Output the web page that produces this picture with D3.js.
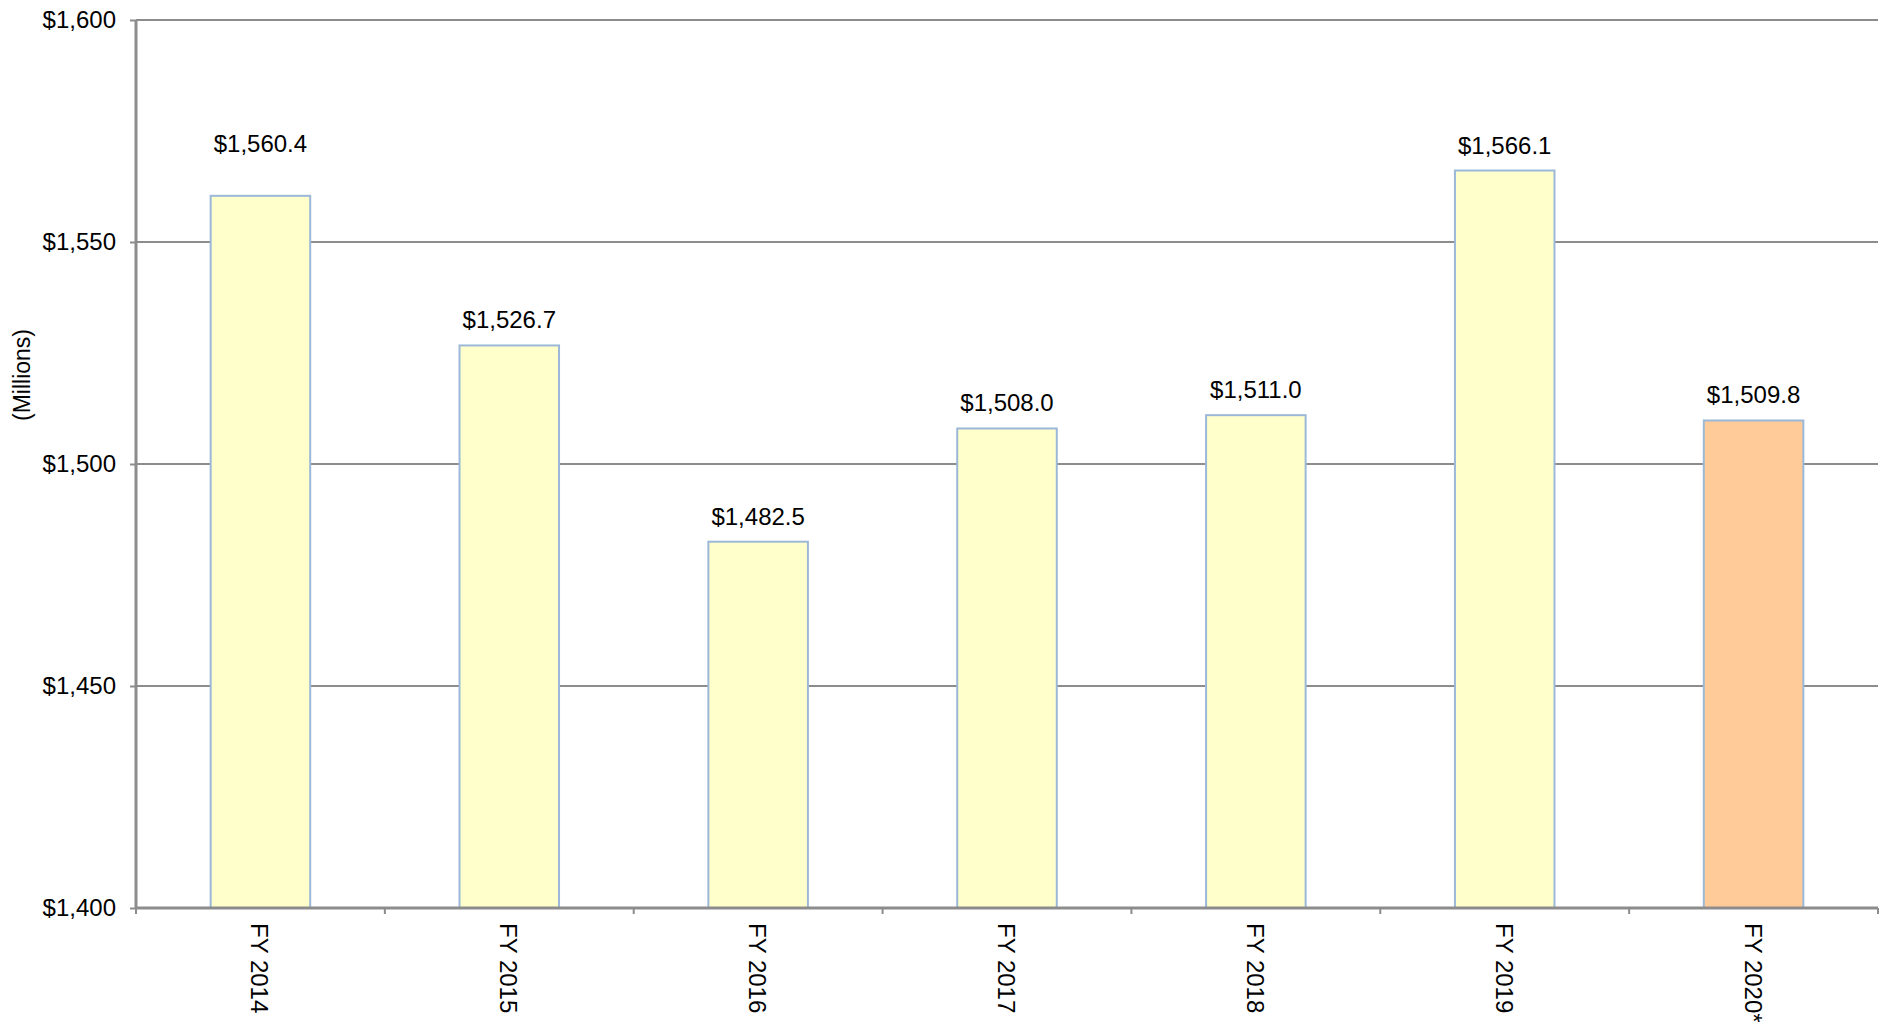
<!DOCTYPE html>
<html>
<head>
<meta charset="utf-8">
<script src="https://cdn.jsdelivr.net/npm/d3@7"></script>
<style>
    body { margin: 0; background: #fff; }
    svg text { font-family: "Liberation Sans", Arial, sans-serif; fill: #000; }
</style>
</head>
<body>
<svg id="chart" width="1889" height="1024"></svg>
<script>
// chart data
const years = ["FY 2014", "FY 2015", "FY 2016", "FY 2017", "FY 2018", "FY 2019", "FY 2020*"];
const spending = [1560.4, 1526.7, 1482.5, 1508.0, 1511.0, 1566.1, 1509.8];
const yTicks = [1400, 1450, 1500, 1550, 1600];
const axisTitle = "(Millions)";

const svg = d3.select("#chart");

// plot area
const plotLeft = 136, plotRight = 1878, plotTop = 20, plotBottom = 908;

const x = d3.scaleBand()
    .domain(years)
    .range([plotLeft, plotRight])
    .paddingInner(0.6)
    .paddingOuter(0.3);

const y = d3.scaleLinear()
    .domain([1400, 1600])
    .range([plotBottom, plotTop]);

const money = d3.format("$,.1f");
const moneyTick = d3.format("$,");

// gridlines
svg.append("g")
    .selectAll("line")
    .data(yTicks.filter(t => t > 1400))
    .join("line")
    .attr("x1", plotLeft)
    .attr("x2", plotRight)
    .attr("y1", d => y(d))
    .attr("y2", d => y(d))
    .attr("stroke", "#8c8c8c")
    .attr("stroke-width", 2);

// bars
svg.append("g")
    .selectAll("rect")
    .data(spending)
    .join("rect")
    .attr("x", (d, i) => x(years[i]))
    .attr("y", d => y(d))
    .attr("width", x.bandwidth())
    .attr("height", d => plotBottom - y(d))
    .attr("fill", (d, i) => i === years.length - 1 ? "#ffcc99" : "#ffffcc")
    .attr("stroke", "#9bb8d8")
    .attr("stroke-width", 2);

// value labels (the first one sits higher in the original)
svg.append("g")
    .selectAll("text")
    .data(spending)
    .join("text")
    .attr("x", (d, i) => x(years[i]) + x.bandwidth() / 2)
    .attr("y", (d, i) => y(d) - (i === 0 ? 44 : 17))
    .attr("text-anchor", "middle")
    .attr("font-size", "24px")
    .text(d => money(d));

// y axis
const yAxis = svg.append("g")
    .attr("transform", `translate(${plotLeft},0)`)
    .call(d3.axisLeft(y).tickValues(yTicks).tickFormat(moneyTick).tickSize(6).tickPadding(14));
yAxis.select(".domain").attr("stroke", "#8c8c8c").attr("stroke-width", 3)
    .attr("d", `M0,${plotBottom}V${plotTop}`);
yAxis.selectAll(".tick line").attr("stroke", "#8c8c8c").attr("stroke-width", 2);
yAxis.selectAll(".tick text")
    .attr("font-size", "24px")
    .attr("font-family", "Liberation Sans, Arial, sans-serif")
    .attr("fill", "#000");

// x axis
const xAxis = svg.append("g")
    .attr("transform", `translate(0,${plotBottom})`)
    .call(d3.axisBottom(x).tickSize(0).tickPadding(0));
xAxis.select(".domain").attr("stroke", "#8c8c8c").attr("stroke-width", 3)
    .attr("d", `M${plotLeft},0H${plotRight}`);
xAxis.selectAll(".tick text")
    .attr("font-size", "24px")
    .attr("font-family", "Liberation Sans, Arial, sans-serif")
    .attr("fill", "#000")
    .attr("text-anchor", "start")
    .attr("dy", null)
    .attr("y", 0)
    .attr("transform", "translate(-9,15) rotate(90)");

// category separators on x axis
const seps = d3.range(years.length + 1).map(i => plotLeft + i * (plotRight - plotLeft) / years.length);
svg.append("g")
    .selectAll("line")
    .data(seps)
    .join("line")
    .attr("x1", d => d)
    .attr("x2", d => d)
    .attr("y1", plotBottom)
    .attr("y2", plotBottom + 6)
    .attr("stroke", "#8c8c8c")
    .attr("stroke-width", 2);

// axis title
svg.append("text")
    .attr("transform", "translate(30,375) rotate(-90)")
    .attr("text-anchor", "middle")
    .attr("font-size", "23px")
    .text(axisTitle);
</script>
</body>
</html>
